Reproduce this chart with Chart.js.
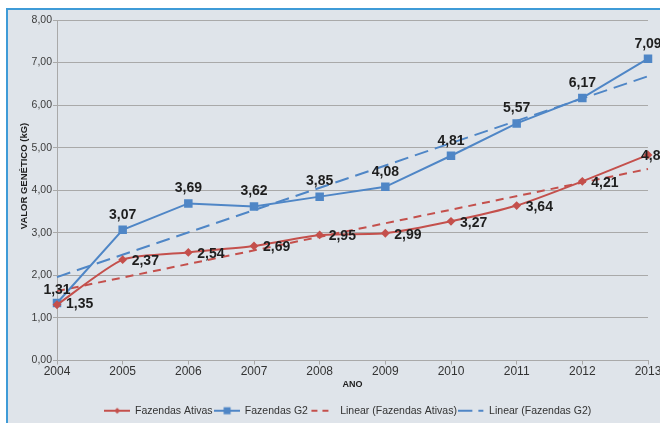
<!DOCTYPE html>
<html>
<head>
<meta charset="utf-8">
<script src="https://cdn.jsdelivr.net/npm/chart.js@4.4.1/dist/chart.umd.min.js"></script>
<style>
  html, body { margin: 0; padding: 0; background: #fff; overflow: hidden; width: 660px; height: 423px; }
  #frame { position: absolute; left: 6px; top: 8px; width: 720px; height: 500px;
           border-left: 2px solid #3f9bd7; border-top: 2px solid #3f9bd7; background: #dfe4ea; }
  #wrap { position: absolute; left: 0; top: 0; width: 696px; height: 423px; }
</style>
</head>
<body>
<div id="frame"></div>
<div id="wrap"><canvas id="chart" width="696" height="423"></canvas></div>
<script>
/* Valor genético por ano — Fazendas Ativas x Fazendas G2 */

// ── Data ─────────────────────────────────────────────────────────────
var anos = ["2004", "2005", "2006", "2007", "2008", "2009", "2010", "2011", "2012", "2013"];
var fazendasAtivas = [1.31, 2.37, 2.54, 2.69, 2.95, 2.99, 3.27, 3.64, 4.21, 4.83];
var fazendasG2 = [1.35, 3.07, 3.69, 3.62, 3.85, 4.08, 4.81, 5.57, 6.17, 7.09];
// trend lines: only the two ends
var linearAtivas = [1.63, null, null, null, null, null, null, null, null, 4.50];
var linearG2 = [1.96, null, null, null, null, null, null, null, null, 6.68];
var yMin = 0, yMax = 8, yStep = 1;

var FONT = "'Liberation Sans', Arial, sans-serif";
var RED = "#c4504c";
var BLUE = "#4f86c6";

function fmt(v) { return v.toFixed(2).replace(".", ","); }

// ── Legend icons (line + marker) ─────────────────────────────────────
function legendIcon(color, kind) {
  var c = document.createElement("canvas");
  c.width = 26; c.height = 10;
  var g = c.getContext("2d");
  g.strokeStyle = color; g.fillStyle = color; g.lineWidth = 2;
  g.beginPath();
  if (kind === "dashShort") {
    g.moveTo(2, 5); g.lineTo(8, 5);
    g.moveTo(13, 5); g.lineTo(19, 5);
  } else if (kind === "dashLong") {
    g.moveTo(0, 5); g.lineTo(14, 5);
    g.moveTo(20, 5); g.lineTo(25, 5);
  } else {
    g.moveTo(0, 5); g.lineTo(26, 5);
  }
  g.stroke();
  if (kind === "diamond") {
    g.beginPath();
    g.moveTo(13, 2); g.lineTo(16, 5); g.lineTo(13, 8); g.lineTo(10, 5);
    g.closePath(); g.fill();
  } else if (kind === "square") {
    g.fillRect(9.5, 1.5, 7, 7);
  }
  return c;
}

var icons = [
  legendIcon(RED, "diamond"),
  legendIcon(BLUE, "square"),
  legendIcon(RED, "dashShort"),
  legendIcon(BLUE, "dashLong")
];

// ── Value labels ─────────────────────────────────────────────────────
var valueLabels = {
  id: "valueLabels",
  afterDatasetsDraw: function (chart) {
    var ctx = chart.ctx;
    ctx.save();
    ctx.font = "bold 14px " + FONT;
    ctx.fillStyle = "#1e1e1e";
    ctx.textBaseline = "middle";
    [0, 1].forEach(function (di) {
      var meta = chart.getDatasetMeta(di);
      var vals = chart.data.datasets[di].data;
      var last = vals.length - 1;
      meta.data.forEach(function (pt, i) {
        // Ativas: labels to the right (first one above); G2: above (first one right)
        var above = (di === 0) ? (i === 0) : (i !== 0);
        if (above) {
          ctx.textAlign = "center";
          ctx.fillText(fmt(vals[i]), pt.x, pt.y - 15);
        } else {
          ctx.textAlign = "left";
          // last Ativas label is pulled back onto its point, as in the source
          var dx = (di === 0 && i === last) ? -7 : 9;
          ctx.fillText(fmt(vals[i]), pt.x + dx, pt.y + 1.5);
        }
      });
    });
    ctx.restore();
  }
};

// ── Axis titles ──────────────────────────────────────────────────────
var axisTitles = {
  id: "axisTitles",
  afterDraw: function (chart) {
    var ctx = chart.ctx, area = chart.chartArea;
    ctx.save();
    ctx.fillStyle = "#1e1e1e";
    ctx.textAlign = "center";
    ctx.textBaseline = "middle";
    ctx.font = "bold 9px " + FONT;
    ctx.fillText("ANO", (area.left + area.right) / 2, 384.5);
    ctx.translate(24.5, 176);
    ctx.rotate(-Math.PI / 2);
    ctx.font = "bold 9.5px " + FONT;
    ctx.fillText("VALOR GENÉTICO (kG)", 0, 0);
    ctx.restore();
  }
};

// ── Chart ────────────────────────────────────────────────────────────
new Chart(document.getElementById("chart").getContext("2d"), {
  type: "line",
  data: {
    labels: anos,
    datasets: [{
      label: "Fazendas Ativas",
      data: fazendasAtivas,
      borderColor: RED,
      backgroundColor: RED,
      borderWidth: 2,
      pointStyle: "rectRot",
      pointRadius: 3,
      tension: 0.2
    }, {
      label: "Fazendas G2",
      data: fazendasG2,
      borderColor: BLUE,
      backgroundColor: BLUE,
      borderWidth: 2,
      pointStyle: "rect",
      pointRadius: 4.6,
      tension: 0
    }, {
      label: "Linear (Fazendas Ativas)",
      data: linearAtivas,
      borderColor: RED,
      borderWidth: 2,
      borderDash: [8, 6],
      pointRadius: 0,
      spanGaps: true,
      tension: 0
    }, {
      label: "Linear (Fazendas G2)",
      data: linearG2,
      borderColor: BLUE,
      borderWidth: 2,
      borderDash: [14, 7],
      pointRadius: 0,
      spanGaps: true,
      tension: 0
    }]
  },
  options: {
    responsive: false,
    animation: false,
    devicePixelRatio: 1,
    layout: { padding: { left: 0, top: 20, right: 0, bottom: -3 } },
    plugins: {
      tooltip: { enabled: false },
      legend: {
        position: "bottom",
        labels: {
          usePointStyle: true,
          pointStyleWidth: 25,
          boxHeight: 10,
          padding: 2,
          color: "#333",
          font: { family: FONT, size: 10.5 },
          generateLabels: function (chart) {
            return chart.data.datasets.map(function (ds, i) {
              return {
                text: ds.label, pointStyle: icons[i], datasetIndex: i,
                fillStyle: ds.borderColor, strokeStyle: ds.borderColor,
                lineWidth: 0, hidden: false, fontColor: "#333"
              };
            });
          }
        }
      }
    },
    scales: {
      x: {
        offset: false,
        afterFit: function (s) { s.height = 43; },
        grid: { display: true, drawOnChartArea: false, drawTicks: true, tickLength: 4, color: "#a9a9a9" },
        border: { color: "#a9a9a9", width: 1 },
        ticks: { color: "#333", padding: 0, font: { family: FONT, size: 12 }, maxRotation: 0 }
      },
      y: {
        min: yMin, max: yMax,
        afterFit: function (s) { s.width = 57; },
        grid: { color: "#a9a9a9", tickLength: 4 },
        border: { color: "#a9a9a9", width: 1 },
        ticks: {
          stepSize: yStep, padding: 1, color: "#3c3c3c",
          font: { family: FONT, size: 10.5 },
          callback: function (v) { return fmt(v); }
        }
      },
      // empty right-hand box: the source plot runs past the picture's right edge
      spare: {
        position: "right",
        afterFit: function (s) { s.width = 48; },
        grid: { display: false },
        border: { display: false },
        ticks: { display: false }
      }
    }
  },
  plugins: [valueLabels, axisTitles]
});
</script>
</body>
</html>
